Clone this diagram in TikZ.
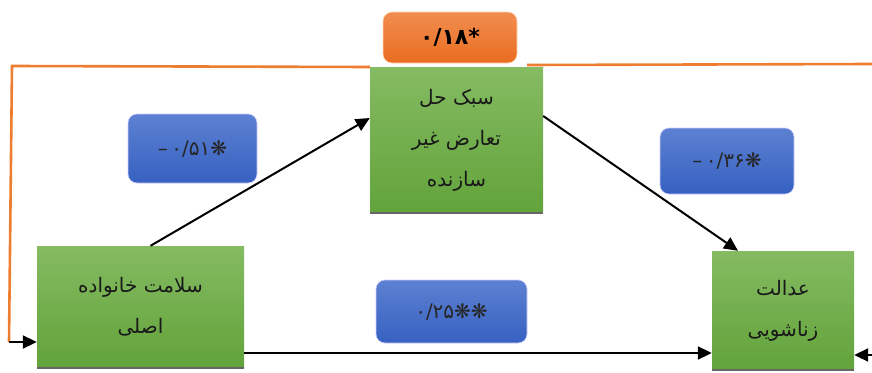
\documentclass[tikz,border=0pt]{standalone}
\usepackage{fontspec}
\newfontfamily\farsi[Script=Arabic]{DejaVu Sans}
\newfontfamily\numfont{DejaVu Sans}
\TeXXeTstate=1
\usetikzlibrary{arrows.meta}
\definecolor{grtop}{HTML}{85BB62}
\definecolor{grbot}{HTML}{62A33A}
\definecolor{bltop}{HTML}{5D81D2}
\definecolor{blbot}{HTML}{3661C1}
\definecolor{ortop}{HTML}{F18D50}
\definecolor{orbot}{HTML}{E96D1F}
\definecolor{orline}{HTML}{ED7D31}
\tikzset{
  varbox/.style={rectangle, top color=grtop, bottom color=grbot, draw=none,
    align=center, font=\farsi\fontsize{20}{41}\selectfont, text=black!90, inner sep=0pt},
  coefbox/.style={rectangle, rounded corners=9pt, top color=bltop, bottom color=blbot,
    draw=white!80!blue, line width=0.6pt, font=\numfont\fontsize{20}{22}\selectfont,
    text=black!85, inner sep=0pt},
  link/.style={line width=2pt, -{Triangle[length=14pt,width=13pt]}},
  feedback/.style={orline, line width=2.6pt}
}
\begin{document}
\begin{tikzpicture}[x=1pt,y=-1pt]
  \useasboundingbox (0,0) rectangle (872,372);
  % orange feedback path, drawn first so the middle box hides it
  \coordinate (oR) at (872,64);
  \coordinate (oM) at (527,65);
  \coordinate (oL) at (12,66);
  \coordinate (oD) at (9,342);
  \coordinate (rin) at (872,355);
  \coordinate (low) at (0,353);
  \draw[feedback] (oR) -- (oM);
  \draw[feedback] (370,67) -- (oL) -- (oD);
  % variables
  \node[varbox, minimum width=207pt, minimum height=122pt] (fam) at (140.5,307)
    {\beginR سلامت خانواده\endR\\ \beginR اصلی\endR};
  \node[varbox, minimum width=173pt, minimum height=145pt] (conf) at (456.5,140)
    {\beginR سبک حل\endR\\ \beginR تعارض غیر\endR\\ \beginR سازنده\endR};
  \node[varbox, minimum width=142pt, minimum height=119pt] (just) at (783,310.5)
    {\beginR عدالت\endR\\ \beginR زناشویی\endR};
  \foreach \b in {fam,conf,just}
    \draw[black!60, line width=2pt] (\b.south west) -- (\b.south east);
  % coefficients
  \node[coefbox, minimum width=129pt, minimum height=69pt] (c1) at (192.5,148.5) {–\,۰/۵۱❋};
  \node[coefbox, minimum width=134pt, minimum height=66pt] (c2) at (727,161) {–\,۰/۳۶❋};
  \node[coefbox, minimum width=151pt, minimum height=63pt] (c3) at (451.5,311.5) {۰/۲۵❋❋};
  \node[rectangle, rounded corners=9pt, top color=ortop, bottom color=orbot,
    draw=white!70!orange, line width=0.6pt, inner sep=0pt,
    minimum width=134pt, minimum height=51pt,
    font=\numfont\bfseries\fontsize{22}{24}\selectfont] (c4) at (450,37.5) {۰/۱۸*};
  % paths
  \draw[link] ([xshift=10pt]fam.north) -- ([yshift=22pt]conf.west);
  \draw[link] ([yshift=24pt]conf.east) -- ([xshift=-45pt]just.north);
  \draw[link] (fam.east |- low) -- (just.west |- low);
  \draw[link] (rin) -- (just.east |- rin);
  \draw[link] (oD) -- (fam.west |- oD);
\end{tikzpicture}
\end{document}
